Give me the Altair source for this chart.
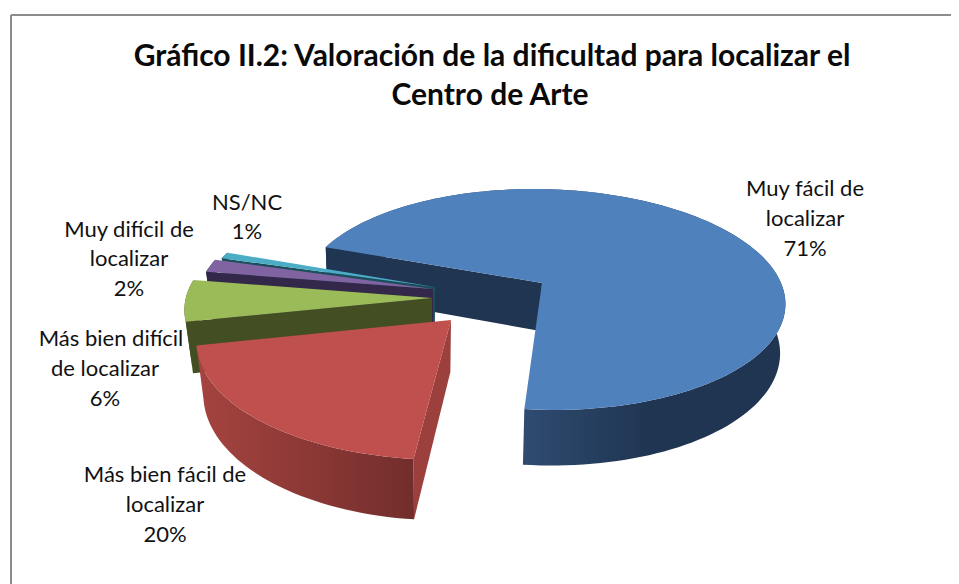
import math
import altair as alt
import pandas as pd

# ---- data ----
categories = ["Muy fácil de localizar", "Más bien fácil de localizar", "Más bien difícil de localizar",
              "Muy difícil de localizar", "NS/NC"]
percent = [71, 20, 6, 2, 1]
title_lines = ["Gráfico II.2: Valoración de la dificultad para localizar el", "Centro de Arte"]
label_lines = [["Muy fácil de", "localizar"], ["Más bien fácil de", "localizar"],
               ["Más bien difícil", "de localizar"], ["Muy difícil de", "localizar"], ["NS/NC"]]

# ---- styling / layout (screen pixel frame) ----
W, H = 943, 576
top_col = ["#4F81BD", "#C0504D", "#9BBB59", "#8064A2", "#4BACC6"]
cut_col = ["#1F3552", "#9C403D", "#434F23", "#33274A", "#1C4E5B"]
wall_cols = [[(524, "#2F4B70"), (650, "#1F3552")], [(203, "#A4433F"), (415, "#722E2C")],
             [(0, "#434F23"), (1, "#434F23")], [(0, "#33274A"), (1, "#33274A")], [(0, "#1C4E5B"), (1, "#1C4E5B")]]
apex = [(542, 283), (451, 320), (432, 298), (433, 289), (435, 287)]
radius_scale = [1.0, 1.05, 1.03, 0.98, 0.96]
y_scale = [1.0, 1.05, 1.0, 1.0, 1.0]
x_shear = [0.0, -0.136, 0.0, 0.0, 0.0]
depth = [48, 52, 50, 50, 50]
narrow = [0.985, 0.97, 0.97, 0.97, 0.97]
paint_order = [0, 4, 3, 2, 1]
label_x = [[805, 805, 805], [165, 165, 165], [111, 105, 105], [129, 129, 129], [247, 247]]
label_y = [[189, 219, 249], [475, 505, 535], [339, 369, 399], [230, 259, 289], [203, 232]]
A, B, K = 239, 108, 0.149
START = 186 - 3.6 * percent[0]
XV = 430


def rim(theta, k):
    ax, ay = apex[k]
    s = radius_scale[k]
    t = math.radians(theta)
    u, v = math.sin(t), math.cos(t)
    d = 1 + K * v
    dy = -s * y_scale[k] * B * v / d
    return (ax + s * (A * u - 10 * v) / d + x_shear[k] * dy, ay + dy)


def lower(p, ay, dp, f):
    return (XV + (p[0] - XV) * f, p[1] + dp + 0.06 * (p[1] - ay))


sc_x = alt.Scale(domain=[8, 8 + W], range=[0, W], nice=False, zero=False)
sc_y = alt.Scale(domain=[8, 8 + H], range=[0, H], nice=False, zero=False)
X = lambda f="x": alt.X(f"{f}:Q", scale=sc_x, axis=None)
Y = lambda f="y": alt.Y(f"{f}:Q", scale=sc_y, axis=None)


def poly(points, fill):
    df = pd.DataFrame({"x": [p[0] for p in points], "y": [p[1] for p in points], "i": range(len(points))})
    return alt.Chart(df).mark_line(interpolate="linear-closed", fill=fill, strokeWidth=0, opacity=1,
                                   stroke="transparent", clip=False).encode(
        x=X(), y=Y(), order=alt.Order("i:Q"))


def wall_fill(stops, pts):
    lo = min(p[0] for p in pts)
    hi = max(p[0] for p in pts)
    return alt.LinearGradient(
        gradient="linear", x1=0, y1=0, x2=1, y2=0,
        stops=[alt.GradientStop(offset=max(0, min(1, (px - lo) / (hi - lo))) if px > 1 else px, color=c)
               for px, c in stops])


layers = []
# frame
frame = pd.DataFrame({"x": [11, 11], "x2": [951, 11], "y": [15, 15], "y2": [15, 584]})
layers.append(alt.Chart(frame).mark_rule(color="#8C8C8C", strokeWidth=2).encode(
    x=X(), x2="x2:Q", y=Y(), y2="y2:Q"))

# slice angles follow the values; painted back to front
starts = [START + 3.6 * sum(percent[:k]) for k in range(len(percent))]
for k in paint_order:
    begin = starts[k]
    end = begin + 3.6 * percent[k]
    n = max(4, int(percent[k] * 2))
    angles = [begin + (end - begin) * j / n for j in range(n + 1)]
    ax, ay = apex[k]
    up = [rim(a, k) for a in angles]
    lo = [lower(q, ay, depth[k], narrow[k]) for q in up]
    bot = lower((ax, ay), ay, depth[k], narrow[k])
    wall = up + lo[::-1]
    layers.append(poly(wall, wall_fill(wall_cols[k], wall)))
    # only the cut at the start of each slice faces the viewer
    layers.append(poly([(ax, ay), up[0], lo[0], bot], cut_col[k]))
    layers.append(poly([(ax, ay)] + up, top_col[k]))

# texts
rows = []
for k, lines in enumerate(label_lines):
    for j, t in enumerate(lines + [f"{percent[k]}%"]):
        rows.append({"x": label_x[k][j], "y": label_y[k][j], "t": t})
layers.append(alt.Chart(pd.DataFrame(rows)).mark_text(
    font="Lato", fontSize=22, color="#111111", align="center", baseline="middle").encode(
    x=X(), y=Y(), text="t:N"))
tit = pd.DataFrame({"x": [492, 490], "y": [57, 96], "t": title_lines})
layers.append(alt.Chart(tit).mark_text(
    font="Lato", fontSize=30, fontWeight="bold", color="#0A0A0A", align="center", baseline="middle").encode(
    x=X(), y=Y(), text="t:N"))

chart = alt.layer(*layers).properties(
    width=W, height=H, padding=0, autosize=alt.AutoSizeParams(type="none"),
    background="white").configure_view(stroke=None)
chart.save("out.html", embed_options={"renderer": "svg", "actions": False})
